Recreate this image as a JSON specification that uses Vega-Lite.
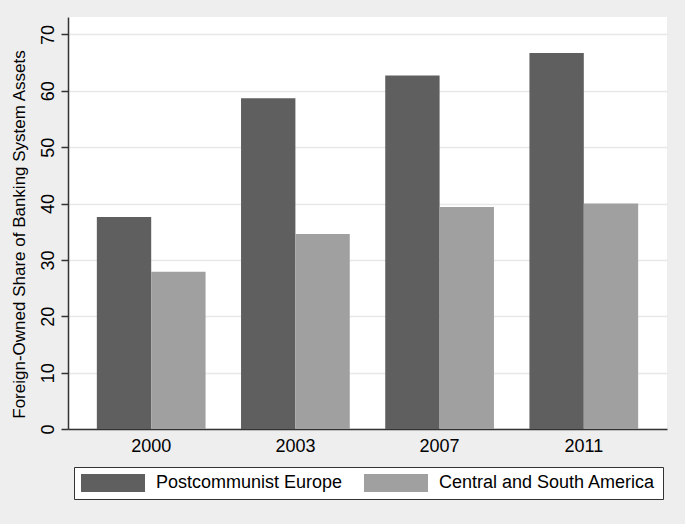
{
  "$schema": "https://vega.github.io/schema/vega-lite/v6.json",
  "autosize": {"type": "none"},
  "width": 599,
  "height": 412,
  "padding": {"left": 68, "top": 17, "right": 18, "bottom": 95},
  "background": "#eeeeee",
  "config": {
    "font": "Liberation Sans",
    "view": {"fill": "#ffffff", "stroke": null}
  },
  "data": {
    "values": [
      {"year": "2000", "region": "Postcommunist Europe", "share": 37.6},
      {"year": "2000", "region": "Central and South America", "share": 27.9},
      {"year": "2003", "region": "Postcommunist Europe", "share": 58.7},
      {"year": "2003", "region": "Central and South America", "share": 34.6},
      {"year": "2007", "region": "Postcommunist Europe", "share": 62.7},
      {"year": "2007", "region": "Central and South America", "share": 39.4},
      {"year": "2011", "region": "Postcommunist Europe", "share": 66.7},
      {"year": "2011", "region": "Central and South America", "share": 40.0}
    ]
  },
  "mark": {"type": "bar"},
  "encoding": {
    "x": {
      "field": "year",
      "type": "nominal",
      "scale": {"paddingInner": 0.246, "paddingOuter": 0.2},
      "axis": {
        "title": null,
        "labelAngle": 0,
        "labelFontSize": 18,
        "labelColor": "#000000",
        "ticks": false,
        "labelPadding": 8,
        "domainColor": "#333333",
        "domainWidth": 1.5,
        "grid": false
      }
    },
    "xOffset": {
      "field": "region",
      "type": "nominal",
      "sort": ["Postcommunist Europe", "Central and South America"],
      "scale": {"paddingInner": 0, "paddingOuter": 0}
    },
    "y": {
      "field": "share",
      "type": "quantitative",
      "scale": {"domain": [0, 73.1], "nice": false, "zero": true},
      "axis": {
        "title": "Foreign-Owned Share of Banking System Assets",
        "titleFontSize": 17,
        "titleFontWeight": "normal",
        "titleColor": "#000000",
        "titlePadding": 11,
        "titleY": 217,
        "values": [0, 10, 20, 30, 40, 50, 60, 70],
        "labelAngle": -90,
        "labelAlign": "center",
        "labelBaseline": "alphabetic",
        "labelFontSize": 18,
        "labelColor": "#000000",
        "labelPadding": 8,
        "tickSize": 7,
        "tickColor": "#333333",
        "tickWidth": 1.5,
        "domainColor": "#333333",
        "domainWidth": 1.5,
        "grid": true,
        "gridColor": "#e8e8e8",
        "gridWidth": 1.5
      }
    },
    "color": {
      "field": "region",
      "type": "nominal",
      "sort": ["Postcommunist Europe", "Central and South America"],
      "scale": {
        "domain": ["Postcommunist Europe", "Central and South America"],
        "range": ["#5f5f5f", "#a0a0a0"]
      },
      "legend": {
        "title": null,
        "orient": "none",
        "legendX": 6,
        "legendY": 450,
        "direction": "horizontal",
        "symbolType": "M-3.556,-1H3.556V1H-3.556Z",
        "symbolSize": 324,
        "symbolOffset": 23,
        "symbolStrokeWidth": 0,
        "symbolOpacity": 1,
        "labelFontSize": 18,
        "labelLimit": 0,
        "labelColor": "#000000",
        "labelOffset": 34,
        "columnPadding": 20,
        "padding": 7,
        "strokeColor": "#333333",
        "fillColor": "#ffffff"
      }
    }
  }
}
